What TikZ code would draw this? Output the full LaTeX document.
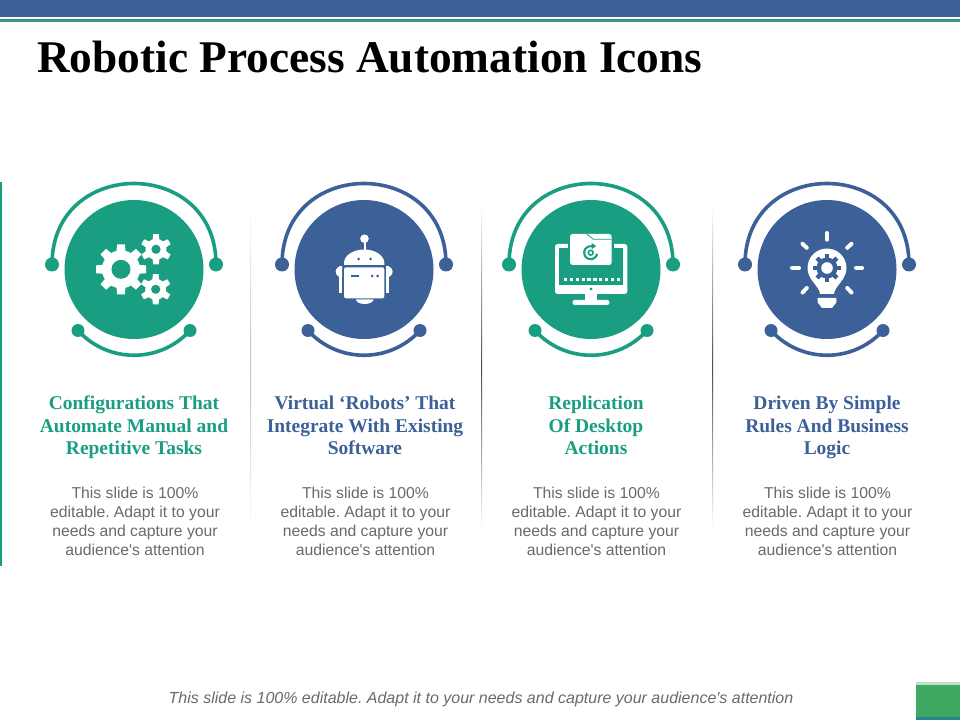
\documentclass[tikz,border=0pt]{standalone}
\usepackage{fontspec}
\setmainfont{Liberation Serif}
\setsansfont[Ligatures=TeXOff]{Liberation Sans}
\definecolor{rblue}{HTML}{3C6098}
\definecolor{rteal}{HTML}{1A9E82}
\definecolor{rline}{HTML}{38987F}
\definecolor{rbody}{HTML}{6A6A6A}
\definecolor{rgreen}{HTML}{3FA862}
\newcommand{\gearicon}[8]{% cx cy router rbody rhole teeth halfwidth holecolor
  \begin{scope}[shift={(#1,#2)}]
    \fill[white] (0,0) circle[radius=#4];
    \pgfmathsetmacro{\gstep}{360/#6}
    \foreach \k in {1,...,#6}{
      \fill[white,rotate=90+\k*\gstep] (#4-1,-#7-0.6) -- (#3,-#7) -- (#3,#7) -- (#4-1,#7+0.6) -- cycle;
    }
    \fill[#8] (0,0) circle[radius=#5];
  \end{scope}}
\newcommand{\ringicon}[3]{% id cx color
  \fill[#3] (#2,269.5) circle[radius=69.5];
  \node[dotbig,fill=#3] (#1tl) at (#2-82,264.5) {};
  \node[dotbig,fill=#3] (#1tr) at (#2+82,264.5) {};
  \node[dotsmall,fill=#3] (#1bl) at (#2-56,330.5) {};
  \node[dotsmall,fill=#3] (#1br) at (#2+56,330.5) {};
  \draw[ringline,#3] (#1tl.center) .. controls +(0,-108) and +(0,-108) .. (#1tr.center);
  \draw[ringline,#3] (#1bl.center) .. controls +(30,33) and +(-30,33) .. (#1br.center);}
\tikzset{
  dotbig/.style={circle,minimum size=10.5pt,inner sep=0pt},
  dotsmall/.style={circle,minimum size=9.75pt,inner sep=0pt},
  ringline/.style={line width=2.7pt},
  headtext/.style={align=center,font=\fontsize{14.6}{16.9}\selectfont\bfseries,anchor=center},
  bodytext/.style={align=center,font=\sffamily\frenchspacing\fontsize{11.8}{14.25}\selectfont,text=rbody,anchor=center},
  divider/.style={top color=white,bottom color=white,middle color=#1,draw=none},
  ray/.style={white,line width=3pt,line cap=round}
}
\begin{document}
\begin{tikzpicture}[x=0.75pt,y=-0.75pt]
\useasboundingbox (0,0) rectangle (960,720);
\fill[white] (0,0) rectangle (960,720);
% top bars
\fill[rblue] (0,0) rectangle (960,17);
\fill[rline] (0,19) rectangle (960,22);
% left bar
\fill[rteal] (0,182) rectangle (2,566);
% dividers
\shade[divider=black!25] (250,205) rectangle (251,530);
\shade[divider=black!70] (481,205) rectangle (482,530);
\shade[divider=black!70] (712,205) rectangle (713,530);
% bottom-right box
\fill[rgreen!35] (916,682) rectangle (960,685);
\fill[rgreen] (916,685) rectangle (960,717);
\fill[rteal!60!rblue] (916,717) rectangle (960,720);
% title
\node[anchor=west,inner sep=0pt,font=\fontsize{34}{38}\selectfont\bfseries] (title) at (37,57) {Robotic Process Automation Icons};
% rings
\ringicon{a}{134}{rteal}
\ringicon{b}{364}{rblue}
\ringicon{c}{591}{rteal}
\ringicon{d}{827}{rblue}
% gears
\gearicon{121}{269.3}{25}{19}{9.5}{8}{3.9}{rteal}
\gearicon{156}{249.3}{15.2}{10.5}{4.6}{6}{2.8}{rteal}
\gearicon{155.7}{289.3}{15.2}{10.5}{4.6}{6}{2.8}{rteal}
% robot
\fill[white] (364.5,238.7) circle[radius=4.3];
\fill[white] (363.5,240) rectangle (365.5,251);
\fill[white] (344,265) -- (344,263) arc[start angle=180,end angle=360,x radius=20.15,y radius=13.5] -- (384.3,265) -- cycle;
\fill[rblue] (358.7,259) circle[radius=1.5] (370.7,259) circle[radius=1.5];
\fill[white,rounded corners=1.5pt] (344,267.3) rectangle (384.3,298.3);
\fill[rblue] (350.7,275) rectangle (358.7,277);
\fill[rblue] (372,276) circle[radius=1.5] (377.7,276) circle[radius=1.5];
\fill[white] (356,299.5) arc[start angle=180,end angle=0,x radius=8.7,y radius=4.5] -- cycle;
\fill[white] (342,266) arc[start angle=-90,end angle=-270,x radius=6.3,y radius=5.7] -- cycle;
\fill[white] (339.3,266) rectangle (342,293);
\fill[white] (386.3,266) arc[start angle=-90,end angle=90,x radius=6.3,y radius=5.7] -- cycle;
\fill[white] (386.3,266) rectangle (389,293);
% monitor
\fill[white,rounded corners=2pt] (555,244) rectangle (627.3,294);
\fill[rteal] (559.3,248.3) rectangle (622.7,285);
\fill[white] (585,294) rectangle (597.3,300);
\fill[white,rounded corners=1pt] (572.7,300) rectangle (609.3,305);
\fill[rteal] (591,289) circle[radius=1.6];
\foreach \i in {0,...,9}{\fill[white] (564+\i*5.85,277.7) rectangle +(3.3,3.3);}
\fill[rteal] (567.7,232) rectangle (614,267.3);
\fill[white,rounded corners=2pt] (570,234) rectangle (611.7,265);
\draw[rteal,line width=0.6pt] (586.7,234) -- (593.3,239.3) -- (611.7,239.3);
\draw[rteal,line width=1.6pt] (591.8,246.3) arc[start angle=-80,end angle=-350,radius=6.5];
\fill[rteal] (596.2,246) -- (591.7,243) -- (591.7,249.3) -- cycle;
\draw[rteal,line width=1.2pt] (590.7,252.7) circle[radius=2.4];
% bulb
\foreach \a/\b/\c/\d in {827/233/827/239.7,792/267.7/799/267.7,856/267.7/862/267.7,802.5/243.8/806.8/247.8,851.5/243.8/847.2/247.8,802.5/292.5/806.8/288,851.5/292.5/847.2/288}{
  \draw[ray] (\a,\b) -- (\c,\d);}
\fill[white] (820,294) .. controls (819.5,286) and (807.5,280) .. (807.5,268) arc[start angle=180,end angle=360,radius=19.5] .. controls (846.5,280) and (834.5,286) .. (834,294) -- cycle;
\fill[white] (817.7,298) -- (836.3,298) -- (836.3,302.5) -- (832,308) -- (822,308) -- (817.7,302.5) -- cycle;
\begin{scope}[shift={(827,268)}]
  \fill[rblue] (0,0) circle[radius=10.5];
  \foreach \k in {1,...,8}{\fill[rblue,rotate=\k*45] (9,-2.2) rectangle (14,2.2);}
  \fill[white] (0,0) circle[radius=5.8];
\end{scope}
% headings
\node[headtext,text=rteal] (h1) at (134,427.5) {\strut Configurations That\\Automate Manual and\\\strut Repetitive Tasks};
\node[headtext,text=rblue] (h2) at (365,427.5) {\strut Virtual ‘Robots’ That\\Integrate With Existing\\\strut Software};
\node[headtext,text=rteal] (h3) at (596,427.5) {\strut Replication\\Of Desktop\\\strut Actions};
\node[headtext,text=rblue] (h4) at (827,427.5) {\strut Driven By Simple\\Rules And Business\\\strut Logic};
% bodies
\foreach \n/\x in {t1/135,t2/365.5,t3/596.5,t4/827.5}{
  \node[bodytext] (\n) at (\x,521.5) {This slide is 100\%\\editable. Adapt it to your\\needs and capture your\\audience's attention};}
% footer
\node[inner sep=0pt,font=\sffamily\itshape\frenchspacing\fontsize{12}{14}\selectfont,text=rbody] (foot) at (481,699) {This slide is 100\% editable. Adapt it to your needs and capture your audience's attention};
\end{tikzpicture}
\end{document}
